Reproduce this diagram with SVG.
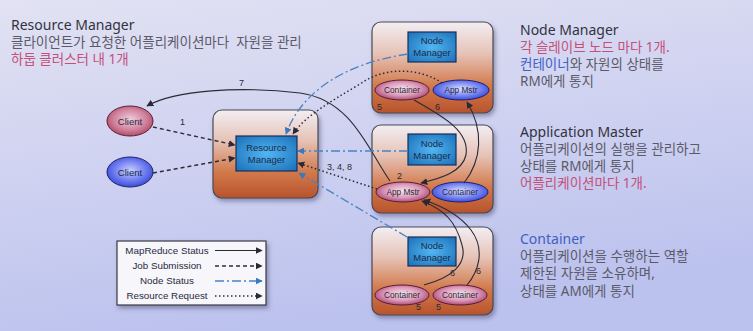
<svg xmlns="http://www.w3.org/2000/svg" width="753" height="331" viewBox="0 0 753 331">
<defs>
<linearGradient id="bg" x1="0" y1="0" x2="0.3" y2="1">
<stop offset="0" stop-color="#e2e2f3"/>
<stop offset="1" stop-color="#bcc2ee"/>
</linearGradient>
<linearGradient id="box" x1="0" y1="0" x2="0" y2="1">
<stop offset="0" stop-color="#f3eef3"/>
<stop offset="0.35" stop-color="#e6c2b6"/>
<stop offset="0.7" stop-color="#d27a4c"/>
<stop offset="1" stop-color="#b8532c"/>
</linearGradient>
<radialGradient id="blueRect" cx="0.5" cy="0.5" r="0.7">
<stop offset="0" stop-color="#52b6f2"/>
<stop offset="1" stop-color="#1a6fb8"/>
</radialGradient>
<radialGradient id="pinkE" cx="0.5" cy="0.45" r="0.6">
<stop offset="0" stop-color="#f6e4ee"/>
<stop offset="0.55" stop-color="#dc9ab8"/>
<stop offset="1" stop-color="#a43a6a"/>
</radialGradient>
<radialGradient id="blueE" cx="0.5" cy="0.45" r="0.6">
<stop offset="0" stop-color="#dce2ff"/>
<stop offset="0.55" stop-color="#7a88f2"/>
<stop offset="1" stop-color="#2e3ed2"/>
</radialGradient>
<radialGradient id="clientPink" cx="0.5" cy="0.45" r="0.6">
<stop offset="0" stop-color="#f0d0dc"/>
<stop offset="0.6" stop-color="#d0809a"/>
<stop offset="1" stop-color="#a8405e"/>
</radialGradient>
<radialGradient id="clientBlue" cx="0.5" cy="0.45" r="0.6">
<stop offset="0" stop-color="#c8d0ff"/>
<stop offset="0.6" stop-color="#6a78ee"/>
<stop offset="1" stop-color="#3040d0"/>
</radialGradient>
<filter id="sh" x="-10%" y="-10%" width="125%" height="125%">
<feDropShadow dx="2" dy="3" stdDeviation="2" flood-color="#404060" flood-opacity="0.45"/>
</filter>
<marker id="ak" viewBox="0 0 10 10" refX="9" refY="5" markerWidth="7" markerHeight="7" orient="auto" markerUnits="userSpaceOnUse">
<path d="M0,0 L10,5 L0,10 z" fill="#2a2a36"/>
</marker>
<marker id="ab" viewBox="0 0 10 10" refX="9" refY="5" markerWidth="7" markerHeight="7" orient="auto" markerUnits="userSpaceOnUse">
<path d="M0,0 L10,5 L0,10 z" fill="#3a78c0"/>
</marker>
<style>
.bx{fill:url(#box);stroke:#4a4a55;stroke-width:1.2}
.nm{fill:url(#blueRect);stroke:#1a2e5a;stroke-width:1.2}
.pe{fill:url(#pinkE);stroke:#5a1e3a;stroke-width:1}
.be{fill:url(#blueE);stroke:#1c2070;stroke-width:1}
.nt{font-family:"Liberation Sans",Arial,sans-serif;font-size:9.5px;fill:#1c2a48;text-anchor:middle}
.et{font-family:"Liberation Sans",Arial,sans-serif;font-size:8.3px;fill:#2a2a3a;text-anchor:middle}
.num{font-family:"Liberation Sans",Arial,sans-serif;font-size:9px;fill:#2a2a36}
.lg{font-family:"Liberation Sans",Arial,sans-serif;font-size:9.8px;fill:#2a2a40;text-anchor:middle}
.h{font-family:"Noto Sans","Noto Sans CJK KR",sans-serif;font-size:14px;fill:#33333f}
.k{font-family:"Noto Sans","Noto Sans CJK KR",sans-serif;font-size:13.5px;fill:#5a5a68}
.pk{fill:#c4507a}
.bl{fill:#4060c4}
.mr{fill:none;stroke:#2a2a36;stroke-width:1.1;marker-end:url(#ak)}
.js{fill:none;stroke:#2e2e3a;stroke-width:1.5;stroke-dasharray:4 3;marker-end:url(#ak)}
.ns{fill:none;stroke:#4a82c4;stroke-width:1.3;stroke-dasharray:9 3 2 3;marker-end:url(#ab)}
.rr{fill:none;stroke:#2e2e3a;stroke-width:1.5;stroke-dasharray:1.5 2.5;marker-end:url(#ak)}
</style>
</defs>
<rect width="753" height="331" fill="url(#bg)"/>

<g id="text-rm">
<text class="h" x="11" y="30">Resource Manager</text>
<text class="k" x="11" y="47" xml:space="preserve">클라이언트가 요청한 어플리케이션마다  자원을 관리</text>
<text class="k pk" x="11" y="64">하둡 클러스터 내 1개</text>
</g>
<g id="text-nm">
<text class="h" x="520" y="35">Node Manager</text>
<text class="k pk" x="520" y="52">각 슬레이브 노드 마다 1개.</text>
<text class="k" x="520" y="69"><tspan class="bl">컨테이너</tspan>와 자원의 상태를</text>
<text class="k" x="520" y="86">RM에게 통지</text>
</g>
<g id="text-am">
<text class="h" x="520" y="137">Application Master</text>
<text class="k" x="520" y="154">어플리케이션의 실행을 관리하고</text>
<text class="k" x="520" y="171">상태를 RM에게 통지</text>
<text class="k pk" x="520" y="188">어플리케이션마다 1개.</text>
</g>
<g id="text-container">
<text class="h bl" x="520" y="244">Container</text>
<text class="k" x="520" y="261">어플리케이션을 수행하는 역할</text>
<text class="k" x="520" y="278">제한된 자원을 소유하며,</text>
<text class="k" x="520" y="296">상태를 AM에게 통지</text>
</g>

<g id="rm">
<rect class="bx" x="213" y="110" width="105" height="88" rx="9" filter="url(#sh)"/>
<rect class="nm" x="236" y="136" width="61" height="35"/>
<text class="nt" x="266.5" y="151">Resource</text>
<text class="nt" x="266.5" y="163">Manager</text>
</g>

<g id="client1">
<ellipse cx="130" cy="121" rx="23" ry="15" fill="url(#clientPink)" stroke="#5a1e34" stroke-width="1"/>
<text class="nt" x="130" y="124.5" fill="#2a2a3a">Client</text>
</g>
<g id="client2">
<ellipse cx="130" cy="172" rx="23" ry="15" fill="url(#clientBlue)" stroke="#1c2070" stroke-width="1"/>
<text class="nt" x="130" y="175.5">Client</text>
</g>

<g id="node1">
<rect class="bx" x="372" y="22" width="121" height="91" rx="9" filter="url(#sh)"/>
<rect class="nm" x="408" y="32" width="48" height="30"/>
<text class="nt" x="432" y="44">Node</text>
<text class="nt" x="432" y="56">Manager</text>
<ellipse class="pe" cx="402" cy="90" rx="27" ry="10"/>
<text class="et" x="402" y="93">Container</text>
<ellipse class="be" cx="461" cy="90" rx="28" ry="10"/>
<text class="et" x="461" y="93">App Mstr</text>
<text class="num" x="377" y="110">5</text>
<text class="num" x="435" y="110">6</text>
</g>

<g id="node2">
<rect class="bx" x="372" y="125" width="121" height="88" rx="9" filter="url(#sh)"/>
<rect class="nm" x="408" y="134" width="48" height="31"/>
<text class="nt" x="432" y="147">Node</text>
<text class="nt" x="432" y="159">Manager</text>
<ellipse class="pe" cx="403" cy="192" rx="27" ry="10"/>
<text class="et" x="403" y="195">App Mstr</text>
<ellipse class="be" cx="460" cy="192" rx="28" ry="10"/>
<text class="et" x="460" y="195">Container</text>
<text class="num" x="397" y="179">2</text>
</g>

<g id="node3">
<rect class="bx" x="372" y="227" width="121" height="88" rx="9" filter="url(#sh)"/>
<rect class="nm" x="408" y="237" width="48" height="29"/>
<text class="nt" x="432" y="249">Node</text>
<text class="nt" x="432" y="261">Manager</text>
<ellipse class="pe" cx="402" cy="295" rx="27" ry="10"/>
<text class="et" x="402" y="298">Container</text>
<ellipse class="pe" cx="460" cy="295" rx="27" ry="10"/>
<text class="et" x="460" y="298">Container</text>
<text class="num" x="450" y="276">6</text>
<text class="num" x="476" y="274">6</text>
<text class="num" x="416" y="310">5</text>
<text class="num" x="436" y="310">5</text>
</g>

<g id="connectors">
<path class="js" d="M153,127 L235,145"/>
<path class="js" d="M153,173 L235,158"/>
<path class="mr" d="M390,181 C368,150 352,100 300,93 C240,86 175,90 147,106"/>
<text class="num" x="239" y="86">7</text>
<text class="num" x="180" y="125">1</text>
<path class="ns" d="M408,54 C340,64 300,95 286,134"/>
<path class="rr" d="M442,83 C420,68 385,66 360,84 C330,102 305,116 293,134"/>
<path class="ns" d="M408,151 L298,151"/>
<path class="rr" d="M377,189 L298,163"/>
<text class="num" x="327" y="170">3, 4, 8</text>
<path class="ns" d="M407,237 L299,173"/>
<path class="mr" d="M414,100 C440,115 470,130 466,155 C462,172 442,178 421,183"/>
<path class="mr" d="M464,183 C482,160 484,130 467,102"/>
<path class="mr" d="M424,285 C450,278 468,265 462,245 C456,222 445,210 422,201"/>
<path class="mr" d="M467,285 C478,272 486,250 471,230 C459,214 442,206 424,200"/>
</g>

<g id="legend">
<rect x="117" y="241" width="149" height="64" fill="#f6f6fb" stroke="#3a3a48" stroke-width="1.2" filter="url(#sh)"/>
<text class="lg" x="167" y="254">MapReduce Status</text>
<text class="lg" x="167" y="269">Job Submission</text>
<text class="lg" x="167" y="284">Node Status</text>
<text class="lg" x="167" y="299">Resource Request</text>
<path class="mr" d="M215,250.5 L262,250.5"/>
<path class="js" d="M215,266 L262,266"/>
<path class="ns" d="M215,281 L262,281"/>
<path class="rr" d="M215,296 L262,296"/>
</g>
</svg>
